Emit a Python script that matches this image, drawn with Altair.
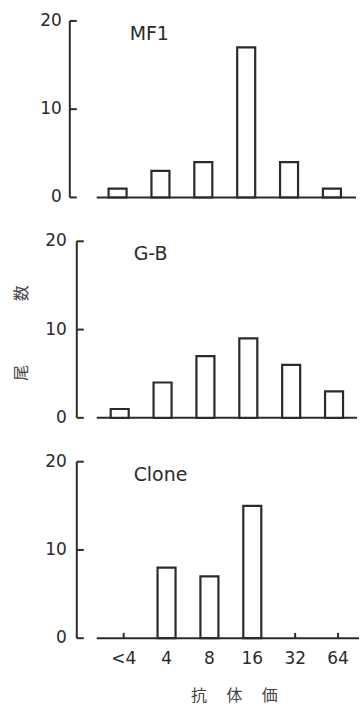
import altair as alt
import pandas as pd

# ---- data ----
categories = ["<4", "4", "8", "16", "32", "64"]
mf1_counts = [1, 3, 4, 17, 4, 1]
gb_counts = [1, 4, 7, 9, 6, 3]
clone_counts = [0, 8, 7, 15, 0, 0]
panel_names = ["MF1", "G-B", "Clone"]
y_tick_values = [0, 10, 20]
y_range = [0, 20]
y_title = "尾　　　　数"
x_title = "抗　    体　    価"

INK = "#2b2b2b"
CJK_INK = "#444444"
NUM_FONT = "DejaVu Sans"
CJK_FONT = "Noto Sans CJK JP"
H = 177


def panel(name, counts, axis_off, width, align, label_gap,
          show_x=False, show_ytitle=False):
    df = pd.DataFrame({"titer": categories, "count": counts})
    xscale = alt.Scale(domain=categories, paddingInner=0.58,
                       paddingOuter=(width - 233) / 2 / 43, align=align)
    yscale = alt.Scale(domain=y_range, nice=False, zero=True)
    ticks_df = pd.DataFrame({"tick": y_tick_values})

    layers = []

    if show_x:
        # small inward ticks on the baseline (hidden under the bars where bars exist)
        layers.append(
            alt.Chart(df).mark_rule(color=INK, strokeWidth=2).encode(
                x=alt.X("titer:N", sort=categories, scale=xscale, axis=None,
                        bandPosition=0.5),
                y=alt.datum(y_range[0], scale=yscale, axis=None),
                y2=alt.datum(0.6),
            )
        )

    # baseline of the bars
    layers.append(
        alt.Chart(pd.DataFrame({"base": [y_range[0]]})).mark_rule(
            color=INK, strokeWidth=2
        ).encode(
            x=alt.value(0), x2=alt.value(width),
            y=alt.Y("base:Q", scale=yscale, axis=None),
        )
    )

    bars = alt.Chart(df).transform_filter("datum.count > 0").mark_bar(
        fill="white", stroke=INK, strokeWidth=2.2
    ).encode(
        x=alt.X("titer:N", sort=categories, scale=xscale, axis=None),
        y=alt.Y("count:Q", scale=yscale, axis=None),
    )
    layers.append(bars)

    # vertical axis line, set off to the left of the baseline
    layers.append(
        alt.Chart(pd.DataFrame({"lo": [y_range[0]], "hi": [y_range[1]]})).mark_rule(
            color=INK, strokeWidth=2
        ).encode(
            x=alt.value(-axis_off),
            y=alt.Y("lo:Q", scale=yscale, axis=None),
            y2="hi:Q",
        )
    )

    # inward ticks on the vertical axis
    layers.append(
        alt.Chart(ticks_df).mark_rule(color=INK, strokeWidth=2).encode(
            x=alt.value(-axis_off),
            x2=alt.value(-axis_off + 7),
            y=alt.Y("tick:Q", scale=yscale, axis=None),
        )
    )

    # tick labels
    layers.append(
        alt.Chart(ticks_df).mark_text(
            font=NUM_FONT, fontSize=17, color=INK, align="right", baseline="middle",
            x=-axis_off - label_gap
        ).encode(
            y=alt.Y("tick:Q", scale=yscale, axis=None),
            text=alt.Text("tick:Q", format="d"),
        )
    )

    if show_x:
        # category labels
        layers.append(
            alt.Chart(df).mark_text(
                font=NUM_FONT, fontSize=17, color=INK, baseline="middle",
                align="center", y=H + 21
            ).encode(
                x=alt.X("titer:N", sort=categories, scale=xscale, axis=None,
                        bandPosition=0.5),
                text="titer:N",
            )
        )
        # x title
        layers.append(
            alt.Chart(pd.DataFrame({"t": [x_title]})).mark_text(
                font=CJK_FONT, fontSize=16, color=CJK_INK, baseline="middle",
                align="center", x=138, y=H + 58
            ).encode(text="t:N")
        )

    if show_ytitle:
        layers.append(
            alt.Chart(pd.DataFrame({"t": [y_title]})).mark_text(
                font=CJK_FONT, fontSize=16, color=CJK_INK, angle=270,
                align="center", baseline="middle", x=-75, y=92
            ).encode(text="t:N")
        )

    # panel name
    layers.append(
        alt.Chart(pd.DataFrame({"name": [name]})).mark_text(
            align="left", baseline="middle", font=NUM_FONT, fontSize=19, color=INK,
            x=33 + (4 if show_x or show_ytitle else 0), y=13
        ).encode(text="name:N")
    )

    return alt.layer(*layers).properties(width=width, height=H)


p1 = panel(panel_names[0], mf1_counts, 27, 260, 0.44, 8)
p2 = panel(panel_names[1], gb_counts, 20, 261, 0.5, 10, show_ytitle=True)
p3 = panel(panel_names[2], clone_counts, 20, 263, 0.6, 10, show_x=True)

chart = alt.vconcat(p1, p2, p3, spacing=44, bounds="flush").properties(
    padding={"left": 14, "top": 11, "right": 0, "bottom": 3},
    background="white",
).configure_view(strokeWidth=0)

chart.save("out.html", embed_options={"renderer": "svg", "actions": False})
